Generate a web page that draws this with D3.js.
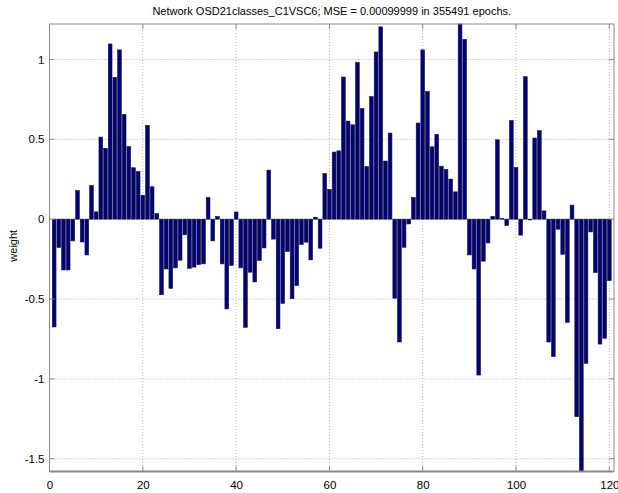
<!DOCTYPE html>
<html>
<head>
<meta charset="utf-8">
<script src="https://cdn.jsdelivr.net/npm/d3@7"></script>
<style>
  body { margin: 0; background: #fff; }
  svg { display: block; font-family: "Liberation Sans", Arial, sans-serif; }
</style>
</head>
<body>
<svg id="chart" width="618" height="493"></svg>
<script>
// Weight index (1..120) and the trained weight for each input
const indices = d3.range(1, 121);
const weights = [
  -0.675, -0.178, -0.318, -0.318, -0.136, 0.179, -0.143, -0.224, 0.211, 0.046,
  0.514, 0.443, 1.097, 0.888, 1.060, 0.656, 0.455, 0.322, 0.299, 0.150,
  0.587, 0.203, 0.035, -0.473, -0.312, -0.433, -0.305, -0.257, -0.098, -0.308,
  -0.300, -0.285, -0.280, 0.136, -0.136, 0.017, -0.280, -0.562, -0.289, 0.045,
  -0.305, -0.677, -0.332, -0.393, -0.259, -0.180, 0.307, -0.125, -0.686, -0.527,
  -0.203, -0.498, -0.416, -0.159, -0.144, -0.255, 0.012, -0.182, 0.286, 0.186,
  0.420, 0.428, 0.890, 0.614, 0.591, 0.982, 0.692, 0.330, 0.767, 1.047,
  1.204, 0.364, 0.539, -0.495, -0.769, -0.176, -0.030, 0.136, 0.602, 1.060,
  0.800, 0.453, 0.531, 0.332, 0.311, 0.251, 0.171, 1.222, 1.126, -0.224,
  -0.312, -0.976, -0.263, -0.149, 0.018, 0.497, 0.004, -0.040, 0.618, 0.324,
  -0.100, 0.892, -0.005, 0.508, 0.554, 0.052, -0.769, -0.861, -0.063, -0.220,
  -0.646, 0.088, -1.237, -1.580, -0.903, -0.080, -0.335, -0.782, -0.746, -0.385
];
const xTicks = [0, 20, 40, 60, 80, 100, 120];
const yTicks = [-1.5, -1, -0.5, 0, 0.5, 1];
const titleText = "Network OSD21classes_C1VSC6; MSE = 0.00099999 in 355491 epochs.";
const yLabel = "weight";

const svg = d3.select("#chart");
const margin = { left: 49.5, right: 4, top: 24, bottom: 21.5 };
const W = 618, H = 493;
const plotW = W - margin.left - margin.right;
const plotH = H - margin.top - margin.bottom;

const x = d3.scaleLinear().domain([0, 121]).range([margin.left, margin.left + plotW]);
const y = d3.scaleLinear().domain(d3.extent(weights)).range([margin.top + plotH, margin.top]);

const g = svg.append("g");

// dotted grid
g.append("g").selectAll("line.vg").data(xTicks).join("line")
  .attr("x1", d => x(d)).attr("x2", d => x(d))
  .attr("y1", margin.top).attr("y2", margin.top + plotH)
  .attr("stroke", "#b0b0b0").attr("stroke-width", 1).attr("stroke-dasharray", "1,2");
g.append("g").selectAll("line.hg").data(yTicks).join("line")
  .attr("x1", margin.left).attr("x2", margin.left + plotW)
  .attr("y1", d => y(d)).attr("y2", d => y(d))
  .attr("stroke", "#b0b0b0").attr("stroke-width", 1).attr("stroke-dasharray", "1,2");

// bars (width 0.8 of a unit, drawn from zero)
const bw = x(0.8) - x(0);
g.append("g").selectAll("rect").data(indices).join("rect")
  .attr("x", (d) => x(d) - bw / 2)
  .attr("width", bw)
  .attr("y", (d, i) => Math.min(y(weights[i]), y(0)))
  .attr("height", (d, i) => Math.abs(y(weights[i]) - y(0)))
  .attr("fill", "#00007f")
  .attr("stroke", "#1a1a2a")
  .attr("stroke-width", 0.6);

// axes box
g.append("rect")
  .attr("x", margin.left).attr("y", margin.top)
  .attr("width", plotW).attr("height", plotH)
  .attr("fill", "none").attr("stroke", "#8a8a8a").attr("stroke-width", 1);
g.append("line")
  .attr("x1", margin.left).attr("x2", margin.left + plotW)
  .attr("y1", margin.top + plotH).attr("y2", margin.top + plotH)
  .attr("stroke", "#8a8a8a").attr("stroke-width", 2);

// x axis ticks and labels
const xAxis = d3.axisBottom(x).tickValues(xTicks).tickSize(0).tickPadding(9).tickFormat(d3.format("d"));
const gx = g.append("g").attr("transform", `translate(0,${margin.top + plotH})`).call(xAxis);
gx.select(".domain").remove();
gx.selectAll("text").attr("font-size", 11.5).attr("fill", "#000").attr("font-family", "Liberation Sans, Arial, sans-serif");
// inward tick marks
g.append("g").selectAll("line").data(xTicks).join("line")
  .attr("x1", d => x(d)).attr("x2", d => x(d))
  .attr("y1", margin.top + plotH).attr("y2", margin.top + plotH - 5)
  .attr("stroke", "#8a8a8a");
g.append("g").selectAll("line").data(xTicks).join("line")
  .attr("x1", d => x(d)).attr("x2", d => x(d))
  .attr("y1", margin.top).attr("y2", margin.top + 5)
  .attr("stroke", "#8a8a8a");

// y axis ticks and labels
const yAxis = d3.axisLeft(y).tickValues(yTicks).tickSize(0).tickPadding(5).tickFormat(d => String(d));
const gy = g.append("g").attr("transform", `translate(${margin.left},0)`).call(yAxis);
gy.select(".domain").remove();
gy.selectAll("text").attr("font-size", 11.5).attr("fill", "#000").attr("font-family", "Liberation Sans, Arial, sans-serif");
g.append("g").selectAll("line").data(yTicks).join("line")
  .attr("x1", margin.left).attr("x2", margin.left + 5)
  .attr("y1", d => y(d)).attr("y2", d => y(d))
  .attr("stroke", "#8a8a8a");
g.append("g").selectAll("line").data(yTicks).join("line")
  .attr("x1", margin.left + plotW).attr("x2", margin.left + plotW - 5)
  .attr("y1", d => y(d)).attr("y2", d => y(d))
  .attr("stroke", "#8a8a8a");

// title
svg.append("text")
  .attr("x", margin.left + plotW / 2).attr("y", 15)
  .attr("text-anchor", "middle").attr("font-size", 11).attr("fill", "#000")
  .text(titleText);

// y label
svg.append("text")
  .attr("transform", `translate(17,${margin.top + plotH / 2 - 2}) rotate(-90)`)
  .attr("text-anchor", "middle").attr("font-size", 11).attr("fill", "#000")
  .text(yLabel);
</script>
</body>
</html>
